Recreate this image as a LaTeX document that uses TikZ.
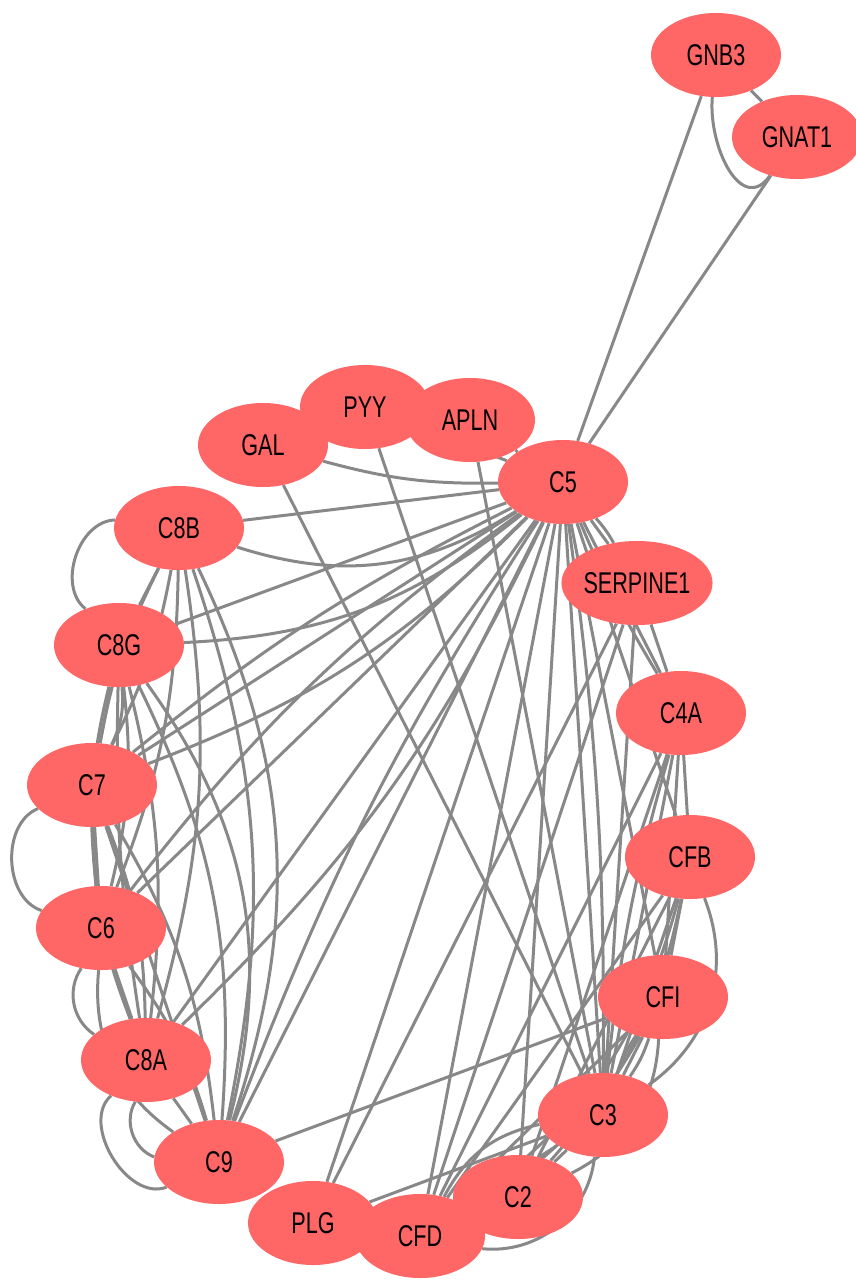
\documentclass[tikz,border=0pt]{standalone}
\usepackage{fontspec}
\newfontfamily\labfont{Liberation Sans}[FakeStretch=0.72]
\usetikzlibrary{shapes.geometric}
\definecolor{nodered}{RGB}{255,102,102}
\definecolor{edgegray}{RGB}{136,136,136}
\pgfdeclarelayer{bg}
\pgfsetlayers{bg,main}
\tikzset{
  gene/.style={ellipse, fill=nodered, draw=none, minimum width=130pt, minimum height=84pt, inner sep=0pt,
    font=\labfont\fontsize{30}{35}\selectfont, text=black},
  edge/.style={draw=edgegray, line width=3pt}
}
\begin{document}
\begin{tikzpicture}[x=1pt,y=1pt]
\useasboundingbox (0,-1280) rectangle (855,0);
\node[gene] (GNB3) at (716,-55) {GNB3};
\node[gene] (GNAT1) at (797,-137) {GNAT1};
\node[gene] (GAL) at (263,-445) {GAL};
\node[gene] (PYY) at (365,-407) {PYY};
\node[gene] (APLN) at (470,-420) {APLN};
\node[gene] (C5) at (563,-482) {C5};
\node[gene] (C8B) at (179,-528) {C8B};
\node[gene] (SERPINE1) at (637,-583) {SERPINE1};
\node[gene] (C8G) at (119,-645) {C8G};
\node[gene] (C4A) at (681,-713) {C4A};
\node[gene] (C7) at (92,-785) {C7};
\node[gene] (CFB) at (690,-857) {CFB};
\node[gene] (C6) at (101,-928) {C6};
\node[gene] (CFI) at (663,-997) {CFI};
\node[gene] (C8A) at (146,-1060) {C8A};
\node[gene] (C3) at (603,-1115) {C3};
\node[gene] (C9) at (219,-1162) {C9};
\node[gene] (C2) at (518,-1197) {C2};
\node[gene] (PLG) at (313,-1223) {PLG};
\node[gene] (CFD) at (420,-1236) {CFD};
\begin{pgfonlayer}{bg}
\draw[edge] (GNB3) to[out=-95, in=235, looseness=1.3] (GNAT1);
\foreach \a/\b/\c in {
  GNB3/GNAT1/0, GNB3/C5/0, GNAT1/C5/0,
  GAL/C5/-8, PYY/C5/0, APLN/C5/0, GAL/C3/0, PYY/C3/0, APLN/C3/0,
  C5/C8B/0, C5/C8B/25, C5/C8G/0, C5/C8G/18, C5/C7/0, C5/C7/12, C5/C7/-6,
  C5/C6/0, C5/C6/-8, C5/C8A/0, C5/C8A/10, C5/C9/0, C5/C9/-6,
  C5/PLG/0, C5/CFD/0, C5/C2/0, C5/C3/0, C5/C3/4, C5/CFI/0, C5/CFB/0,
  C5/C4A/0, C5/C4A/-4, C5/SERPINE1/0, C5/SERPINE1/6,
  C8B/C8G/0, C8B/C8G/-70, C8B/C7/8, C8B/C7/-8, C8B/C6/10, C8B/C8A/12,
  C8B/C9/15, C8B/C9/22,
  C8G/C7/0, C8G/C7/15, C8G/C6/10, C8G/C6/-10, C8G/C8A/10, C8G/C8A/-5,
  C8G/C9/15, C8G/C9/25,
  C7/C6/0, C7/C6/-70, C7/C8A/10, C7/C8A/-10, C7/C9/12, C7/C9/0,
  C6/C8A/0, C6/C8A/-45, C6/C9/10, C6/C9/-30,
  C8A/C9/0, C8A/C9/-50, C8A/C9/-80,
  C3/CFI/0, C3/CFI/8, C3/CFI/-8, C3/CFB/0, C3/CFB/-38, C3/C4A/0, C3/C4A/5,
  C3/SERPINE1/0, C3/C2/0, C3/CFD/0, C3/CFD/45, C3/CFD/-25, C3/PLG/0,
  C9/CFI/0, C2/CFD/0, C2/CFB/0, C2/CFB/-15, CFD/CFB/0, CFD/CFB/-20,
  CFD/CFI/0, CFD/CFI/-15, C2/CFI/-30, C4A/CFD/0, C4A/C2/0, C4A/CFB/0,
  C4A/CFI/0, CFB/CFI/0, SERPINE1/PLG/0, SERPINE1/C4A/0, SERPINE1/CFD/0
}{
  \draw[edge] (\a) to[bend left=\c] (\b);
}
\end{pgfonlayer}
\end{tikzpicture}
\end{document}
